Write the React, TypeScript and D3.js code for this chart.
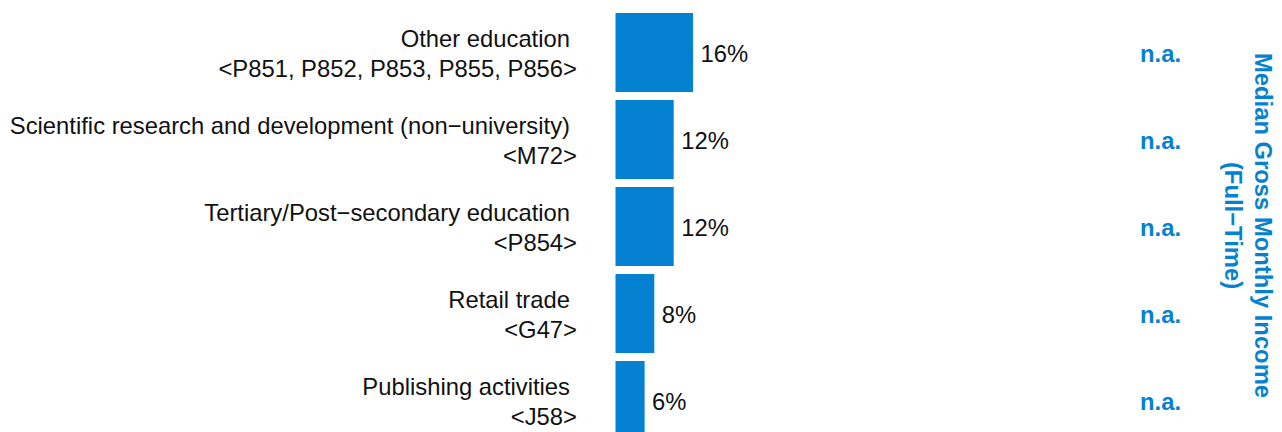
import React from "react";
import * as d3 from "d3";

const categories = [
  "Other education",
  "Scientific research and development (non\u2212university)",
  "Tertiary/Post\u2212secondary education",
  "Retail trade",
  "Publishing activities",
];
const codes = [
  "<P851, P852, P853, P855, P856>",
  "<M72>",
  "<P854>",
  "<G47>",
  "<J58>",
];
const shares = [16, 12, 12, 8, 6];
const incomeLabels = ["n.a.", "n.a.", "n.a.", "n.a.", "n.a."];
const titleLines = ["Median Gross Monthly Income", "(Full\u2212Time)"];

const W = 1282;
const H = 432;
const BLUE = "#0581d1";
const FONT = "'Liberation Sans', Arial, Helvetica, sans-serif";
const FS = 23.8;

export default function App() {
  const y = d3
    .scaleBand<number>()
    .domain(d3.range(categories.length))
    .range([13, 440])
    .paddingInner(8 / 87)
    .paddingOuter(0);
  const x = d3.scaleLinear().domain([0, 100]).range([615.5, 615.5 + 485]);
  const bw = y.bandwidth();

  return (
    <svg
      width={W}
      height={H}
      style={{ position: "fixed", left: 0, top: 0, background: "#fff" }}
      fontFamily={FONT}
    >
      {categories.map((c, i) => {
        const y0 = y(i) as number;
        return (
          <g key={i}>
            <text x={570} y={y0 + 34} textAnchor="end" fontSize={FS} fill="#111">
              {c}
            </text>
            <text x={577} y={y0 + 64} textAnchor="end" fontSize={FS} fill="#111">
              {codes[i]}
            </text>
            <rect x={x(0)} y={y0} width={x(shares[i]) - x(0)} height={bw} fill={BLUE} />
            <text x={x(shares[i]) + 7.5} y={y0 + 48.5} fontSize={FS} fill="#111">
              {shares[i] + "%"}
            </text>
            <text
              x={1140}
              y={y0 + 48.5}
              fontSize={FS}
              fontWeight="bold"
              fill={BLUE}
            >
              {incomeLabels[i]}
            </text>
          </g>
        );
      })}
      <g transform="translate(1255,225.5) rotate(90)">
        {titleLines.map((t, i) => (
          <text
            key={i}
            x={0}
            y={i * 30}
            textAnchor="middle"
            fontSize={FS}
            fontWeight="bold"
            fill={BLUE}
          >
            {t}
          </text>
        ))}
      </g>
    </svg>
  );
}
